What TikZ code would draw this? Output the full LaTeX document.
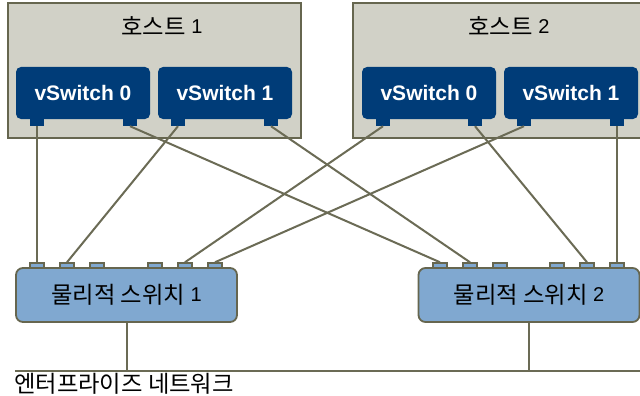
\documentclass[tikz,border=0pt]{standalone}
\usepackage{fontspec}
\setmainfont{Liberation Sans}
\newfontfamily\krfont{Noto Sans CJK KR}
\definecolor{edgecol}{HTML}{66664F}
\definecolor{wirecol}{HTML}{6B6B55}
\definecolor{hostfill}{HTML}{D1D1C7}
\definecolor{vsfill}{HTML}{003C78}
\definecolor{psfill}{HTML}{80A8D0}
\newcommand{\kr}[1]{{\krfont\fontsize{23.3}{26}\selectfont #1}}
\newcommand{\num}[1]{\raisebox{2pt}{#1}}
\begin{document}
\begin{tikzpicture}[x=1pt,y=-1pt,
  hostbox/.style={draw=edgecol, line width=2pt, fill=hostfill, rectangle,
    minimum width=293pt, minimum height=135pt, inner sep=0pt},
  vswitch/.style={fill=vsfill, rounded corners=5pt, rectangle,
    minimum width=134pt, minimum height=52pt, inner sep=0pt,
    text=white, font=\bfseries\fontsize{21}{24}\selectfont},
  vport/.style={fill=vsfill, rectangle, minimum width=14pt, minimum height=7pt, inner sep=0pt},
  pswitch/.style={draw=edgecol, line width=1.8pt, fill=psfill, rounded corners=7pt,
    rectangle, minimum width=221pt, minimum height=54pt, inner sep=0pt,
    font=\fontsize{20}{24}\selectfont},
  pport/.style={draw=edgecol, line width=1.5pt, fill=psfill, rectangle,
    minimum width=14pt, minimum height=6pt, inner sep=0pt},
  hostlabel/.style={font=\fontsize{20}{24}\selectfont, inner sep=0pt},
  wire/.style={draw=wirecol, line width=2pt},
]
\useasboundingbox (0,0) rectangle (640,396);
\fill[white] (0,0) rectangle (640,396);

% hosts
\node[hostbox] (host1) at (154.5,70.5) {};
\node[hostbox] (host2) at (499.5,70.5) {};
\node[hostlabel] (h1lab) at (162,26) {\kr{호스트} \num{1}};
\node[hostlabel] (h2lab) at (509,26) {\kr{호스트} \num{2}};

% virtual switches
\node[vswitch] (h1s0) at (83,93) {vSwitch 0};
\node[vswitch] (h1s1) at (225,93) {vSwitch 1};
\node[vswitch] (h2s0) at (429,93) {vSwitch 0};
\node[vswitch] (h2s1) at (571,93) {vSwitch 1};

% uplink ports of the virtual switches
\node[vport] (h1s0a) at (37,122.5) {};
\node[vport] (h1s0b) at (130,122.5) {};
\node[vport] (h1s1a) at (178,122.5) {};
\node[vport] (h1s1b) at (271,122.5) {};
\node[vport] (h2s0a) at (383,122.5) {};
\node[vport] (h2s0b) at (475,122.5) {};
\node[vport] (h2s1a) at (524,122.5) {};
\node[vport] (h2s1b) at (617,122.5) {};

% physical switches
\node[pport] (p1a) at (37,266) {};
\node[pport] (p1b) at (67,266) {};
\node[pport] (p1c) at (97,266) {};
\node[pport] (p1d) at (155,266) {};
\node[pport] (p1e) at (185,266) {};
\node[pport] (p1f) at (215,266) {};
\node[pport] (p2a) at (440,266) {};
\node[pport] (p2b) at (470,266) {};
\node[pport] (p2c) at (500,266) {};
\node[pport] (p2d) at (557,266) {};
\node[pport] (p2e) at (587,266) {};
\node[pport] (p2f) at (617,266) {};
\node[pswitch] (ps1) at (126.5,295) {\kr{물리적 스위치} \num{1}};
\node[pswitch] (ps2) at (529,295) {\kr{물리적 스위치} \num{2}};

% cabling between virtual and physical switches
\draw[wire] (h1s0a.south) -- (p1a.north);
\draw[wire] (h1s0b.south) -- (p2a.north);
\draw[wire] (h1s1a.south) -- (p1b.north);
\draw[wire] (h1s1b.south) -- (p2b.north);
\draw[wire] (h2s0a.south) -- (p1e.north);
\draw[wire] (h2s0b.south) -- (p2e.north);
\draw[wire] (h2s1a.south) -- (p1f.north);
\draw[wire] (h2s1b.south) -- (p2f.north);

% enterprise network backbone
\coordinate (netL) at (15,371);
\coordinate (netR) at (640,371);
\draw[wire] (netL) -- (netR);
\draw[wire] (ps1.south) -- (ps1.south |- netL);
\draw[wire] (ps2.south) -- (ps2.south |- netL);
\node[anchor=west, inner sep=0pt] (netlab) at (14,384) {\kr{엔터프라이즈 네트워크}};
\end{tikzpicture}
\end{document}
